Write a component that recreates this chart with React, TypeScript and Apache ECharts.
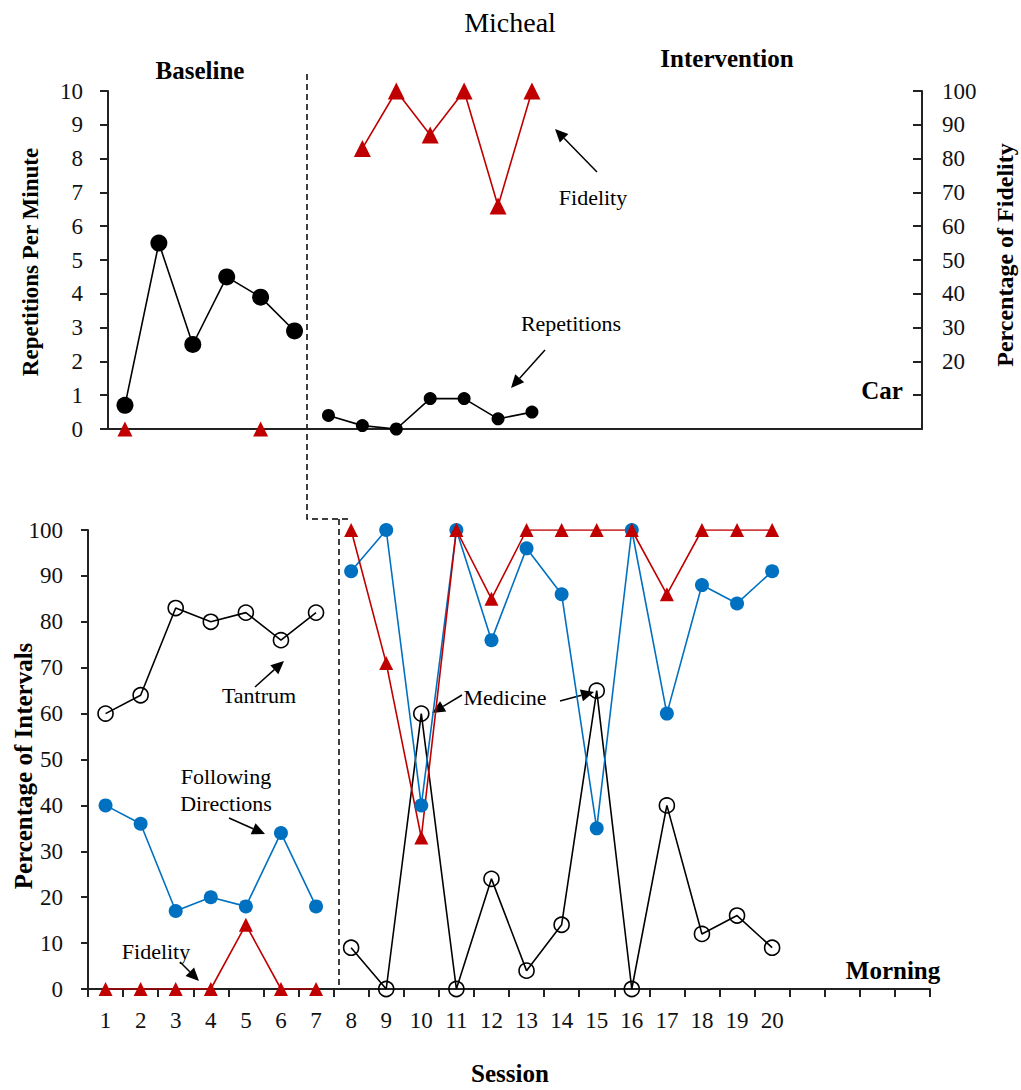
import React, { useEffect, useRef } from 'react';
import * as echarts from 'echarts';

// ---------- data ----------
const chartTitle = 'Micheal';
const sessionLabels = ['1','2','3','4','5','6','7','8','9','10','11','12','13','14','15','16','17','18','19','20','','','',''];
const SLOTS = sessionLabels.length;

// Top panel (Car) — sessions 1-6 baseline, 7-13 intervention
const carRepBaseline = [0.7, 5.5, 2.5, 4.5, 3.9, 2.9];
const carRepIntervention = [0.4, 0.1, 0, 0.9, 0.9, 0.3, 0.5];
const carFidBaseline = [0, null, null, null, 0, null];
const carFidIntervention = [null, 83, 100, 87, 100, 66, 100];

// Bottom panel (Morning) — sessions 1-7 baseline, 8-20 intervention
const tantrumBaseline = [60, 64, 83, 80, 82, 76, 82];
const tantrumIntervention = [9, 0, 60, 0, 24, 4, 14, 65, 0, 40, 12, 16, 9];
const followBaseline = [40, 36, 17, 20, 18, 34, 18];
const followIntervention = [91, 100, 40, 100, 76, 96, 86, 35, 100, 60, 88, 84, 91];
const morningFidBaseline = [0, 0, 0, 0, 14, 0, 0];
const morningFidIntervention = [100, 71, 33, 100, 85, 100, 100, 100, 100, 86, 100, 100, 100];

const pad = (start: number, vals: (number | null)[]) => {
  const out: (number | null)[] = new Array(SLOTS).fill(null);
  vals.forEach((v, i) => { out[start + i] = v; });
  return out;
};

const SERIF = 'Liberation Serif';
const BLUE = '#0070C0';
const RED = '#C00000';
const INK = '#111';

function arrow(x1: number, y1: number, x2: number, y2: number) {
  const ang = Math.atan2(y2 - y1, x2 - x1);
  const L = 13, W = 6;
  const bx = x2 - L * Math.cos(ang), by = y2 - L * Math.sin(ang);
  const px = -Math.sin(ang) * W, py = Math.cos(ang) * W;
  return [
    { type: 'line', shape: { x1, y1, x2: bx, y2: by }, style: { stroke: '#000', lineWidth: 1.5 }, silent: true },
    { type: 'polygon', shape: { points: [[x2, y2], [bx + px, by + py], [bx - px, by - py]] }, style: { fill: '#000' }, silent: true },
  ];
}

function txt(text: string, x: number, y: number, size: number, bold = false, rotation = 0) {
  return {
    type: 'text', x, y, rotation, silent: true,
    style: {
      text, fill: '#000',
      fontFamily: SERIF, fontSize: size, fontWeight: bold ? 'bold' : 'normal',
      textAlign: 'center', textVerticalAlign: 'middle',
    },
  };
}

export default function App() {
  const ref = useRef<HTMLDivElement>(null);
  useEffect(() => {
    if (!ref.current) return;
    const chart = echarts.init(ref.current, null, { renderer: 'svg' });
    const axisLine = { show: true, lineStyle: { color: '#222', width: 2 } };
    const labelStyle = { fontFamily: SERIF, fontSize: 23, color: INK };

    const lineSeries = (name: string, xi: number, yi: number, data: any[], color: string, symbol: string, size: number, hollow = false) => ({
      name, type: 'line', xAxisIndex: xi, yAxisIndex: yi, data,
      symbol, symbolSize: size, showSymbol: true, connectNulls: false,
      lineStyle: { color, width: 1.6 },
      itemStyle: hollow
        ? { color: 'rgba(255,255,255,0)', borderColor: color, borderWidth: 1.6 }
        : { color, borderWidth: 0 },
      z: 3,
    });

    const graphics: any[] = [
      txt(chartTitle, 510, 22, 28),
      txt('Baseline', 200, 70, 25, true),
      txt('Intervention', 727, 58, 25, true),
      txt('Repetitions Per Minute', 30, 262, 23, true, Math.PI / 2),
      txt('Percentage of Fidelity', 1005, 255, 24, true, Math.PI / 2),
      txt('Percentage of Intervals', 23, 766, 25, true, Math.PI / 2),
      txt('Car', 882, 390, 25, true),
      txt('Morning', 893, 970, 25, true),
      txt('Session', 510, 1073, 25, true),
      txt('Fidelity', 593, 197, 22),
      ...arrow(597, 172, 555, 129),
      txt('Repetitions', 571, 323, 22),
      ...arrow(545, 350, 511, 388),
      txt('Tantrum', 259, 695, 22),
      ...arrow(255, 687, 284, 661),
      txt('Following', 226, 776, 22),
      txt('Directions', 226, 803, 22),
      ...arrow(229, 818, 265, 834),
      txt('Fidelity', 156, 951, 22),
      ...arrow(180, 962, 199, 981),
      txt('Medicine', 505, 697, 22),
      ...arrow(462, 695, 432, 713),
      ...arrow(560, 701, 594, 692),
      { type: 'polyline', silent: true, shape: { points: [[307, 74], [307, 519], [348, 519]] }, style: { stroke: '#000', lineWidth: 1.5, lineDash: [6, 4], fill: null } },
      { type: 'polyline', silent: true, shape: { points: [[339, 519], [339, 989]] }, style: { stroke: '#000', lineWidth: 1.5, lineDash: [6, 4], fill: null } },
    ];

    chart.setOption({
      animation: false,
      backgroundColor: '#fff',
      grid: [
        { left: 108, top: 91, width: 814, height: 338 },
        { left: 88, top: 530, width: 842, height: 459 },
      ],
      xAxis: [
        {
          gridIndex: 0, type: 'category', data: sessionLabels, boundaryGap: true,
          axisLine, axisTick: { show: false }, axisLabel: { show: false }, splitLine: { show: false },
        },
        {
          gridIndex: 1, type: 'category', data: sessionLabels, boundaryGap: true,
          axisLine,
          axisTick: { show: true, alignWithLabel: false, interval: 0, length: 8, lineStyle: { color: '#222', width: 2 } },
          axisLabel: { ...labelStyle, interval: 0, margin: 20 },
          splitLine: { show: false },
        },
      ],
      yAxis: [
        {
          gridIndex: 0, type: 'value', min: 0, max: 10, interval: 1, position: 'left',
          axisLine, axisTick: { show: true, length: 8, lineStyle: { color: '#222', width: 2 } },
          axisLabel: { ...labelStyle, margin: 25 }, splitLine: { show: false },
        },
        {
          gridIndex: 0, type: 'value', min: 0, max: 100, interval: 10, position: 'right',
          axisLine, axisTick: { show: true, inside: true, length: 9, lineStyle: { color: '#222', width: 2 } },
          axisLabel: { ...labelStyle, margin: 20, formatter: (v: number) => (v >= 20 ? String(v) : '') },
          splitLine: { show: false },
        },
        {
          gridIndex: 1, type: 'value', min: 0, max: 100, interval: 10, position: 'left',
          axisLine, axisTick: { show: true, length: 7, lineStyle: { color: '#222', width: 2 } },
          axisLabel: { ...labelStyle, margin: 25 }, splitLine: { show: false },
        },
      ],
      series: [
        lineSeries('Repetitions (baseline)', 0, 0, pad(0, carRepBaseline), '#000', 'circle', 17),
        lineSeries('Repetitions (intervention)', 0, 0, pad(6, carRepIntervention), '#000', 'circle', 13),
        {
          name: 'Fidelity (baseline, car)', type: 'scatter', xAxisIndex: 0, yAxisIndex: 1,
          data: pad(0, carFidBaseline), symbol: 'triangle', symbolSize: 15,
          itemStyle: { color: RED, opacity: 1 }, z: 4,
        },
        lineSeries('Fidelity (intervention, car)', 0, 1, pad(6, carFidIntervention), RED, 'triangle', 17),

        lineSeries('Tantrum (baseline)', 1, 2, pad(0, tantrumBaseline), '#000', 'circle', 15, true),
        lineSeries('Tantrum (intervention)', 1, 2, pad(7, tantrumIntervention), '#000', 'circle', 15, true),
        lineSeries('Following Directions (baseline)', 1, 2, pad(0, followBaseline), BLUE, 'circle', 14),
        lineSeries('Following Directions (intervention)', 1, 2, pad(7, followIntervention), BLUE, 'circle', 14),
        lineSeries('Fidelity (baseline, morning)', 1, 2, pad(0, morningFidBaseline), RED, 'triangle', 14),
        lineSeries('Fidelity (intervention, morning)', 1, 2, pad(7, morningFidIntervention), RED, 'triangle', 14),
      ],
      graphic: graphics,
    });
    return () => chart.dispose();
  }, []);
  return <div ref={ref} style={{ width: 1021, height: 1090, position: 'absolute', left: 0, top: 0 }} />;
}
